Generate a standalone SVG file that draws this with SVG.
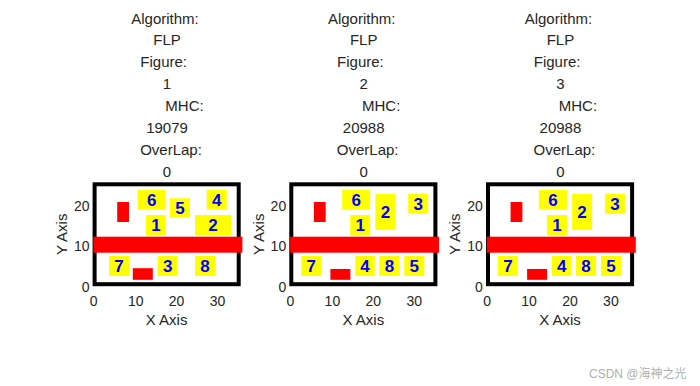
<svg xmlns="http://www.w3.org/2000/svg" width="700" height="386" viewBox="0 0 700 386">
<style>
text{font-family:"Liberation Sans",Arial,sans-serif;fill:#262626}
.t{font-size:15px;text-anchor:middle}
.tk{font-size:14px}
.tx{text-anchor:middle}
.ty{text-anchor:end}
.al{font-size:15px;text-anchor:middle}
.frame{fill:#fff;stroke:#000;stroke-width:4}
.r{fill:#ff0000}
.y{fill:#ffff00}
.n{font-size:17px;font-weight:bold;fill:#0000ff;text-anchor:middle}
.wm{font-family:"Liberation Sans","Noto Sans CJK SC",sans-serif;font-size:12px;fill:#b0b0b0}
</style>
<defs>
<g id="axes">
<rect class="frame" x="94.6" y="184.3" width="144.1" height="99.9"/>
<text class="tk tx" x="93.7" y="305.5">0</text>
<text class="tk tx" x="135.7" y="305.5">10</text>
<text class="tk tx" x="176.6" y="305.5">20</text>
<text class="tk tx" x="217.5" y="305.5">30</text>
<text class="tk ty" x="89.5" y="291.5">0</text>
<text class="tk ty" x="89.5" y="251.2">10</text>
<text class="tk ty" x="89.5" y="211">20</text>
<text class="al" x="166.6" y="325">X Axis</text>
<text class="al" transform="translate(67,234.3) rotate(-90)">Y Axis</text>
<rect class="r" x="93.4" y="236.7" width="149" height="16"/>
<rect class="r" x="117.2" y="202" width="11.8" height="20"/>
</g>
<g id="title-lines">
<text class="t" x="165" y="23.5">Algorithm:</text>
<text class="t" x="167" y="45.4">FLP</text>
<text class="t" x="163.7" y="67.2">Figure:</text>
<text class="t" x="184.5" y="111">MHC:</text>
<text class="t" x="171" y="154.7">OverLap:</text>
<text class="t" x="167" y="176.5">0</text>
</g>
</defs>

<g id="panel-1">
<use href="#title-lines"/>
<text class="t" x="167" y="89.1">1</text>
<text class="t" x="167" y="132.9">19079</text>
<use href="#axes"/>
<g id="p1-block-6"><rect class="y" x="137.7" y="190" width="28" height="19.5"/><text class="n" x="151.7" y="205.8">6</text></g>
<g id="p1-block-5"><rect class="y" x="170" y="198.3" width="20" height="19.4"/><text class="n" x="180" y="214">5</text></g>
<g id="p1-block-4"><rect class="y" x="206.7" y="190" width="20" height="19.5"/><text class="n" x="216.7" y="205.8">4</text></g>
<g id="p1-block-1"><rect class="y" x="146" y="215" width="19.7" height="20"/><text class="n" x="155.9" y="231">1</text></g>
<g id="p1-block-2"><rect class="y" x="195" y="215" width="36" height="20"/><text class="n" x="213" y="231">2</text></g>
<g id="p1-block-7"><rect class="y" x="109" y="256" width="20" height="20"/><text class="n" x="119" y="272">7</text></g>
<g id="p1-block-3"><rect class="y" x="157.7" y="256" width="20" height="20"/><text class="n" x="167.7" y="272">3</text></g>
<g id="p1-block-8"><rect class="y" x="195" y="256" width="20" height="20"/><text class="n" x="205" y="272">8</text></g>
<rect class="r" x="132.8" y="268.2" width="20" height="11.6"/>
</g>

<g id="panel-2" transform="translate(196.7,0)">
<use href="#title-lines"/>
<text class="t" x="167" y="89.1">2</text>
<text class="t" x="167" y="132.9">20988</text>
<use href="#axes"/>
<g id="p2-block-6"><rect class="y" x="145.5" y="190" width="28" height="19.5"/><text class="n" x="159.5" y="205.8">6</text></g>
<g id="p2-block-2"><rect class="y" x="178.7" y="194" width="20" height="36"/><text class="n" x="188.7" y="218">2</text></g>
<g id="p2-block-3"><rect class="y" x="211.5" y="194" width="20" height="19.5"/><text class="n" x="221.5" y="209.8">3</text></g>
<g id="p2-block-1"><rect class="y" x="153.5" y="215" width="20" height="20"/><text class="n" x="163.5" y="231">1</text></g>
<g id="p2-block-7"><rect class="y" x="104.5" y="256" width="20" height="20"/><text class="n" x="114.5" y="272">7</text></g>
<g id="p2-block-4"><rect class="y" x="158.5" y="256" width="19.5" height="20"/><text class="n" x="168.3" y="272">4</text></g>
<g id="p2-block-8"><rect class="y" x="182.7" y="256" width="20" height="20"/><text class="n" x="192.7" y="272">8</text></g>
<g id="p2-block-5"><rect class="y" x="207.6" y="256" width="20" height="20"/><text class="n" x="217.6" y="272">5</text></g>
<rect class="r" x="133.7" y="269" width="20" height="10.8"/>
</g>

<g id="panel-3" transform="translate(393.4,0)">
<use href="#title-lines"/>
<text class="t" x="167" y="89.1">3</text>
<text class="t" x="167" y="132.9">20988</text>
<use href="#axes"/>
<g id="p3-block-6"><rect class="y" x="145.5" y="190" width="28" height="19.5"/><text class="n" x="159.5" y="205.8">6</text></g>
<g id="p3-block-2"><rect class="y" x="178.7" y="194" width="20" height="36"/><text class="n" x="188.7" y="218">2</text></g>
<g id="p3-block-3"><rect class="y" x="211.5" y="194" width="20" height="19.5"/><text class="n" x="221.5" y="209.8">3</text></g>
<g id="p3-block-1"><rect class="y" x="153.5" y="215" width="20" height="20"/><text class="n" x="163.5" y="231">1</text></g>
<g id="p3-block-7"><rect class="y" x="104.5" y="256" width="20" height="20"/><text class="n" x="114.5" y="272">7</text></g>
<g id="p3-block-4"><rect class="y" x="158.5" y="256" width="19.5" height="20"/><text class="n" x="168.3" y="272">4</text></g>
<g id="p3-block-8"><rect class="y" x="182.7" y="256" width="20" height="20"/><text class="n" x="192.7" y="272">8</text></g>
<g id="p3-block-5"><rect class="y" x="207.6" y="256" width="20" height="20"/><text class="n" x="217.6" y="272">5</text></g>
<rect class="r" x="133.7" y="269" width="20" height="10.8"/>
</g>

<text class="wm" x="589" y="378">CSDN @海神之光</text>
</svg>
